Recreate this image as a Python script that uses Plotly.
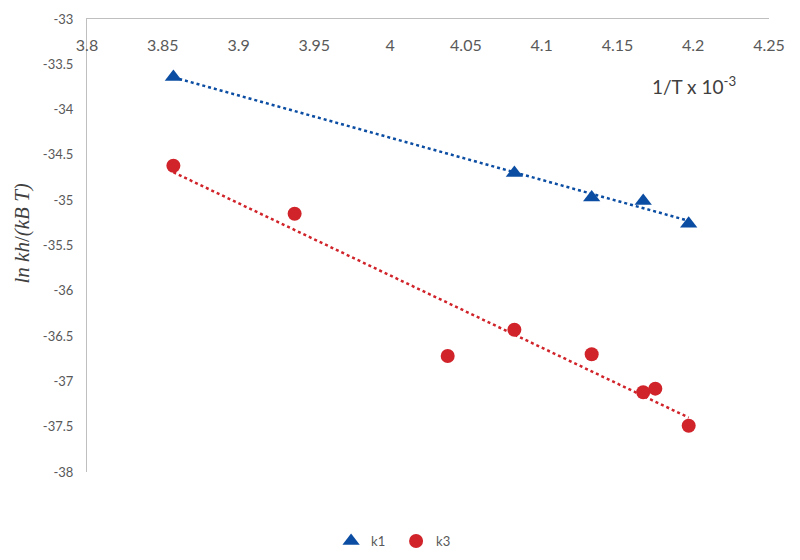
import numpy as np
import plotly.graph_objects as go

# ── Data ──────────────────────────────────────────────────────────────────────

K1_X = [3.857, 4.082, 4.133, 4.167, 4.197]
K1_Y = [-33.64, -34.70, -34.97, -35.01, -35.26]

K3_X = [3.857, 3.937, 4.038, 4.082, 4.133, 4.167, 4.175, 4.197]
K3_Y = [-34.62, -35.15, -36.72, -36.43, -36.70, -37.12, -37.08, -37.49]

X_TICKS = [3.8, 3.85, 3.9, 3.95, 4.0, 4.05, 4.1, 4.15, 4.2, 4.25]
Y_TICKS = [-33, -33.5, -34, -34.5, -35, -35.5, -36, -36.5, -37, -37.5, -38]

BLUE = "#0B4DA2"
RED = "#D0232A"
AXIS_GREY = "#BFBFBF"
TEXT_GREY = "#595959"
FONT = "Lato"


def trend(xs, ys):
    """Linear least-squares trendline spanning the data range."""
    slope, icpt = np.polyfit(xs, ys, 1)
    xe = [min(xs), max(xs)]
    return xe, [slope * v + icpt for v in xe]


fig = go.Figure()

for xs, ys, color in [(K1_X, K1_Y, BLUE), (K3_X, K3_Y, RED)]:
    tx, ty = trend(xs, ys)
    fig.add_trace(go.Scatter(
        x=tx, y=ty, mode="lines",
        line=dict(color=color, width=2.5, dash="dot"),
        showlegend=False, hoverinfo="skip",
    ))

fig.add_trace(go.Scatter(
    x=K1_X, y=K1_Y, mode="markers", name="k1",
    marker=dict(symbol="triangle-up", size=15, color=BLUE),
))
fig.add_trace(go.Scatter(
    x=K3_X, y=K3_Y, mode="markers", name="k3",
    marker=dict(symbol="circle", size=14, color=RED),
))

# axis caption sitting inside the plot, top right
fig.add_annotation(
    text="1/T x 10<sup>-3</sup>", x=4.2005, y=-33.73, xref="x", yref="y",
    showarrow=False, font=dict(family=FONT, size=19, color="#404040"),
)
fig.add_annotation(
    text="<i>ln kh</i>/<i>(kB T)</i>", textangle=-90,
    x=-0.095, y=0.527, xref="paper", yref="paper",
    xanchor="center", yanchor="middle",
    showarrow=False, font=dict(family="Liberation Serif", size=21, color="#404040"),
)

# the page body adds an 8px margin, so the figure is drawn 8px smaller
fig.update_layout(
    width=792, height=552,
    plot_bgcolor="white", paper_bgcolor="white",
    margin=dict(l=79, r=31, t=11, b=88),
    font=dict(family=FONT, color=TEXT_GREY),
    xaxis=dict(
        range=[3.8, 4.25], side="top", automargin=False,
        tickvals=X_TICKS, ticktext=[f"{v:g}" for v in X_TICKS],
        ticklabelposition="inside", ticklabelstandoff=21,
        ticklabeloverflow="allow",
        tickfont=dict(size=16, color=TEXT_GREY),
        showline=True, linecolor=AXIS_GREY, linewidth=1,
        showgrid=False, zeroline=False, ticks="",
    ),
    yaxis=dict(
        range=[-38, -33], automargin=False,
        tickvals=Y_TICKS, ticktext=[f"{v:g}" for v in Y_TICKS],
        tickfont=dict(size=13, color=TEXT_GREY),
        ticklabelstandoff=10, ticklabeloverflow="allow",
        showline=True, linecolor=AXIS_GREY, linewidth=1,
        showgrid=False, zeroline=False, ticks="",
    ),
    legend=dict(
        orientation="h", xref="container", yref="container",
        x=0.49, y=0.0344, xanchor="center", yanchor="middle",
        font=dict(size=13, color=TEXT_GREY), itemwidth=30, entrywidth=20,
    ),
)

fig.write_html("out.html")
